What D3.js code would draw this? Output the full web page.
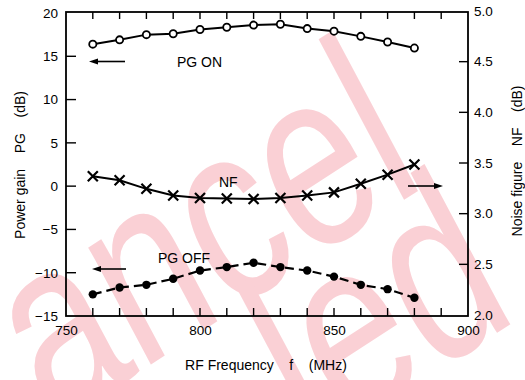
<!DOCTYPE html>
<html>
<head>
<meta charset="utf-8">
<script src="https://cdn.jsdelivr.net/npm/d3@7"></script>
<style>
  html, body { margin: 0; padding: 0; background: #fff; }
  svg { display: block; }
  text { font-family: "Liberation Sans", Arial, sans-serif; fill: #000; }
</style>
</head>
<body>
<svg id="chart" width="525" height="380"></svg>
<script>
// ---- data ----
const freqs   = [760, 770, 780, 790, 800, 810, 820, 830, 840, 850, 860, 870, 880];
const pgOn    = [16.4, 16.9, 17.5, 17.6, 18.1, 18.35, 18.6, 18.7, 18.2, 17.9, 17.3, 16.65, 15.95];
const pgOff   = [-12.5, -11.7, -11.4, -10.7, -9.75, -9.35, -8.85, -9.35, -9.75, -10.45, -11.4, -11.9, -12.9];
const nf      = [3.37, 3.33, 3.245, 3.18, 3.155, 3.15, 3.145, 3.155, 3.18, 3.21, 3.295, 3.385, 3.485];
const xTicks  = [750, 800, 850, 900];
const xMinor  = [760, 770, 780, 790, 800, 810, 820, 830, 840, 850, 860, 870, 880, 890];
const yLTicks = [-15, -10, -5, 0, 5, 10, 15, 20];
const yRTicks = [2.0, 2.5, 3.0, 3.5, 4.0, 4.5, 5.0];
const watermark = ["Cancel", "led"];

const svg = d3.select("#chart");
const X0 = 66, X1 = 468, YT = 12, YB = 316;

const x  = d3.scaleLinear().domain([750, 900]).range([X0, X1]);
const yL = d3.scaleLinear().domain([-15, 20]).range([YB, YT + 1]);
const yR = d3.scaleLinear().domain([2.0, 5.0]).range([YB - 1, YT - 1]);

// ---- watermark ----
const wm = svg.append("g").attr("pointer-events", "none")
  .attr("transform", "translate(-61,502) rotate(-33) skewX(-5)");
[[0, 0], [352, 162]].forEach(([tx, ty], i) => {
  wm.append("text")
    .attr("transform", `translate(${tx},${ty}) scale(0.75,1)`)
    .style("font-family", "'Liberation Sans', Arial, sans-serif")
    .style("font-size", "250px")
    .style("fill", "#fad0d5")
    .text(watermark[i]);
});

// ---- frame ----
svg.append("rect").attr("x", X0).attr("y", YT).attr("width", X1 - X0).attr("height", YB - YT)
  .attr("stroke", "#000").attr("stroke-width", 1.8).attr("fill", "none");

// ---- bottom axis ----
const xAxis = d3.axisBottom(x).tickValues(xTicks).tickSize(0).tickPadding(9).tickFormat(d3.format("d"));
const gx = svg.append("g").attr("transform", `translate(0,${YB})`).call(xAxis);
gx.select(".domain").remove();
gx.selectAll("text").style("font-size", "13.5px").style("font-family", "'Liberation Sans', Arial, sans-serif");

// inward ticks bottom & top
svg.append("g").selectAll("line").data(xMinor).join("line")
  .attr("x1", d => x(d)).attr("x2", d => x(d))
  .attr("y1", YB).attr("y2", YB - 8)
  .attr("stroke", "#000").attr("stroke-width", 1.4);
svg.append("g").selectAll("line").data(xMinor).join("line")
  .attr("x1", d => x(d)).attr("x2", d => x(d))
  .attr("y1", YT).attr("y2", YT + 7)
  .attr("stroke", "#000").attr("stroke-width", 1.4);

// ---- left axis ----
const fmtL = d => (d < 0 ? "\u2212" + Math.abs(d) : String(d));
const yAxisL = d3.axisLeft(yL).tickValues(yLTicks).tickSize(0).tickPadding(8).tickFormat(fmtL);
const gl = svg.append("g").attr("transform", `translate(${X0},0)`).call(yAxisL);
gl.select(".domain").remove();
gl.selectAll("text").style("font-size", "13.5px").style("font-family", "'Liberation Sans', Arial, sans-serif");
svg.append("g").selectAll("line").data(yLTicks.slice(1, -1)).join("line")
  .attr("x1", X0).attr("x2", X0 + 10)
  .attr("y1", d => yL(d)).attr("y2", d => yL(d))
  .attr("stroke", "#000").attr("stroke-width", 1.4);

// ---- right axis ----
const yAxisR = d3.axisRight(yR).tickValues(yRTicks).tickSize(0).tickPadding(6).tickFormat(d3.format(".1f"));
const gr = svg.append("g").attr("transform", `translate(${X1},0)`).call(yAxisR);
gr.select(".domain").remove();
gr.selectAll("text").style("font-size", "13.5px").style("font-family", "'Liberation Sans', Arial, sans-serif");
svg.append("g").selectAll("line").data(yRTicks.slice(1, -1)).join("line")
  .attr("x1", X1).attr("x2", X1 - 9)
  .attr("y1", d => yR(d)).attr("y2", d => yR(d))
  .attr("stroke", "#000").attr("stroke-width", 1.4);

// ---- axis titles ----
svg.append("text")
  .attr("transform", "translate(25,165) rotate(-90)")
  .attr("text-anchor", "middle")
  .style("font-size", "14px").style("white-space", "pre")
  .text("Power gain    PG    (dB)");
svg.append("text")
  .attr("transform", "translate(522,161) rotate(-90)")
  .attr("text-anchor", "middle")
  .style("font-size", "14px").style("white-space", "pre")
  .text("Noise figure    NF    (dB)");
svg.append("text")
  .attr("x", 266).attr("y", 370)
  .attr("text-anchor", "middle")
  .style("font-size", "14px").style("white-space", "pre")
  .text("RF Frequency    f    (MHz)");

// ---- series ----
const lineL = d3.line().x((d, i) => x(freqs[i])).y(d => yL(d));
const lineR = d3.line().x((d, i) => x(freqs[i])).y(d => yR(d));

svg.append("path").datum(pgOn).attr("d", lineL)
  .attr("fill", "none").attr("stroke", "#000").attr("stroke-width", 2);
svg.append("g").selectAll("circle").data(pgOn).join("circle")
  .attr("cx", (d, i) => x(freqs[i])).attr("cy", d => yL(d)).attr("r", 3.6)
  .attr("fill", "#fff").attr("stroke", "#000").attr("stroke-width", 1.8);

svg.append("path").datum(pgOff).attr("d", lineL)
  .attr("fill", "none").attr("stroke", "#000").attr("stroke-width", 2.2)
  .attr("stroke-dasharray", "9,5");
svg.append("g").selectAll("circle").data(pgOff).join("circle")
  .attr("cx", (d, i) => x(freqs[i])).attr("cy", d => yL(d)).attr("r", 4.2)
  .attr("fill", "#000");

svg.append("path").datum(nf).attr("d", lineR)
  .attr("fill", "none").attr("stroke", "#000").attr("stroke-width", 2);
const s = 5;
svg.append("g").selectAll("path").data(nf).join("path")
  .attr("d", (d, i) => {
    const cx = x(freqs[i]), cy = yR(d);
    return `M${cx - s},${cy - s}L${cx + s},${cy + s}M${cx - s},${cy + s}L${cx + s},${cy - s}`;
  })
  .attr("stroke", "#000").attr("stroke-width", 2.2).attr("fill", "none");

// ---- labels & arrows ----
const ann = svg.append("g");
ann.append("text").attr("x", 177).attr("y", 67).style("font-size", "14px").text("PG ON");
ann.append("text").attr("x", 219).attr("y", 187).style("font-size", "14px").text("NF");
ann.append("text").attr("x", 158).attr("y", 263).style("font-size", "14px").text("PG OFF");

function arrow(xFrom, xTo, yy) {
  const dir = Math.sign(xTo - xFrom);
  ann.append("line").attr("x1", xFrom).attr("x2", xTo - dir * 6).attr("y1", yy).attr("y2", yy)
    .attr("stroke", "#000").attr("stroke-width", 1.6);
  ann.append("path")
    .attr("d", `M${xTo},${yy}L${xTo - dir * 9},${yy - 3}L${xTo - dir * 9},${yy + 3}Z`)
    .attr("fill", "#000");
}
arrow(125, 89, 61.5);
arrow(126, 92, 269);
arrow(408, 443, 186);
</script>
</body>
</html>
